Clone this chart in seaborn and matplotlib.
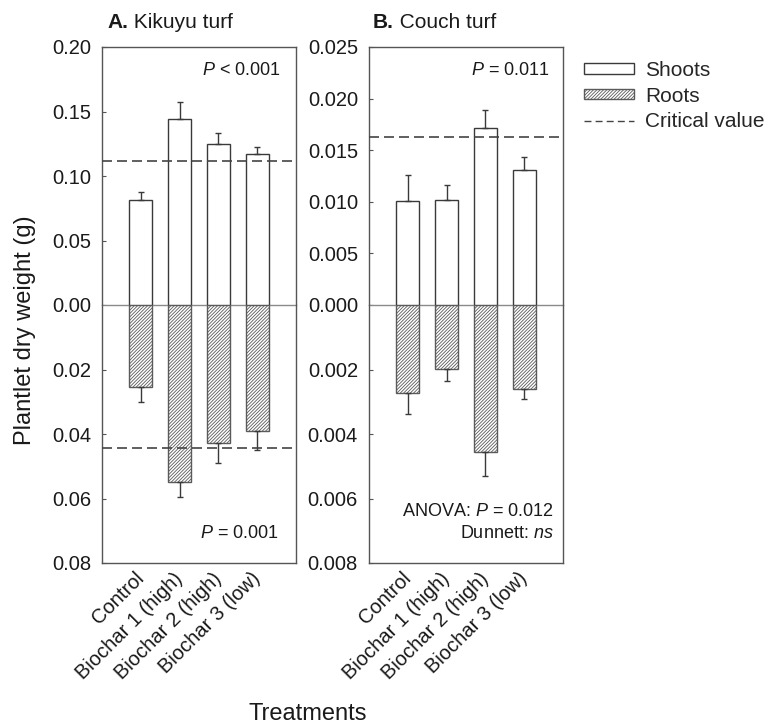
import numpy as np
import pandas as pd
import matplotlib
matplotlib.use("Agg")
import matplotlib.pyplot as plt
import seaborn as sns
from matplotlib.patches import Patch
from matplotlib.lines import Line2D

# ---------------- data ----------------
treatments = ["Control", "Biochar 1 (high)", "Biochar 2 (high)", "Biochar 3 (low)"]

kikuyu_shoots = [0.0814, 0.1442, 0.1248, 0.1170]
kikuyu_shoots_se = [0.0062, 0.0134, 0.0088, 0.0057]
kikuyu_roots = [0.0253, 0.0548, 0.0429, 0.0391]
kikuyu_roots_se = [0.0047, 0.0046, 0.0062, 0.0059]
kikuyu_crit_shoots = 0.1116
kikuyu_crit_roots = 0.0444

couch_shoots = [0.01008, 0.0102, 0.01715, 0.01311]
couch_shoots_se = [0.00252, 0.0014, 0.00171, 0.00126]
couch_roots = [0.00274, 0.00198, 0.00455, 0.0026]
couch_roots_se = [0.00064, 0.00037, 0.00074, 0.00032]
couch_crit_shoots = 0.01625

kik_top_ticks = [0.00, 0.05, 0.10, 0.15, 0.20]
kik_bot_ticks = [0.02, 0.04, 0.06, 0.08]
cou_top_ticks = [0.000, 0.005, 0.010, 0.015, 0.020, 0.025]
cou_bot_ticks = [0.002, 0.004, 0.006, 0.008]

# ---------------- style ----------------
sns.set_theme(style="white")
plt.rcParams["font.family"] = ["Liberation Sans", "DejaVu Sans"]
plt.rcParams["mathtext.fontset"] = "custom"
plt.rcParams["mathtext.rm"] = "Liberation Sans"
plt.rcParams["mathtext.it"] = "Liberation Sans:italic"
plt.rcParams["hatch.linewidth"] = 0.6

W, H = 767, 727
fig = plt.figure(figsize=(W / 100, H / 100), dpi=100)

EDGE = "#3a3a3a"
HATCH_EDGE = "#5a5a5a"
SPINE = "#555555"
TXT = "#1a1a1a"
TICK_FS = 14.5
ANN_FS = 13


def px_axes(x0, x1, y0, y1):
    return fig.add_axes([x0 / W, 1 - y1 / H, (x1 - x0) / W, (y1 - y0) / H])


def style_axis(ax, ticks, fmt, inverted, lim):
    for s in ax.spines.values():
        s.set_color(SPINE)
        s.set_linewidth(1.0)
    if inverted:
        ax.spines["top"].set_visible(False)
        ax.set_ylim(lim, 0)
    else:
        ax.spines["bottom"].set_visible(False)
        ax.set_ylim(0, lim)
    ax.axhline(0, color="#8a8a8a", lw=1.0, zorder=0.5)
    ax.set_yticks(ticks)
    ax.set_yticklabels([fmt.format(t) for t in ticks])
    ax.tick_params(axis="y", direction="in", length=3, width=0.8, color=SPINE,
                   labelsize=TICK_FS, pad=8, labelcolor=TXT, left=True)
    ax.set_xlim(-1, 4)
    ax.set_xlabel("")
    ax.set_ylabel("")


def draw_panel(xleft, shoots, s_se, roots, r_se, top_ticks, bot_ticks, fmt_top,
               fmt_bot, crit_top, crit_bot):
    ax_t = px_axes(xleft, xleft + 194, 47, 305)
    ax_b = px_axes(xleft, xleft + 194, 305, 563)
    x = np.arange(len(treatments))

    df_s = pd.DataFrame({"treatment": treatments, "value": shoots})
    sns.barplot(data=df_s, x="treatment", y="value", ax=ax_t, color="white",
                edgecolor=EDGE, linewidth=1.0, width=0.6, errorbar=None,
                saturation=1)
    ax_t.errorbar(x, shoots, yerr=[np.zeros(len(x)), s_se], fmt="none",
                  ecolor=EDGE, elinewidth=1.0, capsize=2.5, capthick=1.0)

    df_r = pd.DataFrame({"treatment": treatments, "value": roots})
    sns.barplot(data=df_r, x="treatment", y="value", ax=ax_b, color="white",
                edgecolor=HATCH_EDGE, linewidth=1.0, width=0.6, errorbar=None,
                saturation=1, hatch="/" * 10)
    ax_b.errorbar(x, roots, yerr=[np.zeros(len(x)), r_se], fmt="none",
                  ecolor=EDGE, elinewidth=1.0, capsize=2.5, capthick=1.0)

    style_axis(ax_t, top_ticks, fmt_top, False, top_ticks[-1])
    style_axis(ax_b, bot_ticks, fmt_bot, True, bot_ticks[-1])

    if crit_top is not None:
        ax_t.axhline(crit_top, color="#444444", lw=1.2, ls=(0, (6, 3)), zorder=3)
    if crit_bot is not None:
        ax_b.axhline(crit_bot, color="#444444", lw=1.2, ls=(0, (6, 3)), zorder=3)

    ax_t.set_xticks([])
    ax_b.set_xticks(x)
    ax_b.set_xticklabels(treatments, rotation=45, ha="right", va="center",
                         rotation_mode="anchor", fontsize=TICK_FS, color=TXT)
    ax_b.tick_params(axis="x", length=0, pad=9)
    return ax_t, ax_b


kt, kb = draw_panel(102, kikuyu_shoots, kikuyu_shoots_se, kikuyu_roots,
                    kikuyu_roots_se, kik_top_ticks, kik_bot_ticks, "{:.2f}",
                    "{:.2f}", kikuyu_crit_shoots, kikuyu_crit_roots)
ct, cb = draw_panel(369, couch_shoots, couch_shoots_se, couch_roots,
                    couch_roots_se, cou_top_ticks, cou_bot_ticks, "{:.3f}",
                    "{:.3f}", couch_crit_shoots, None)

# annotations
def ptext(ax, xa, ya, rel, val):
    ax.text(xa, ya, rf"$\it{{P}}$ {rel} {val}", transform=ax.transAxes,
            ha="right", va="center", fontsize=ANN_FS, color=TXT)

ptext(kt, 0.92, 0.91, "<", "0.001")
ptext(kb, 0.91, 0.115, "=", "0.001")
ptext(ct, 0.93, 0.91, "=", "0.011")
cb.text(0.95, 0.20, r"ANOVA: $\it{P}$ = 0.012", transform=cb.transAxes,
        ha="right", va="center", fontsize=ANN_FS, color=TXT)
cb.text(0.95, 0.115, r"Dunnett: $\it{ns}$", transform=cb.transAxes,
        ha="right", va="center", fontsize=ANN_FS, color=TXT)

# titles
fig.canvas.draw()
rend = fig.canvas.get_renderer()
for xpx, lab, rest in [(107, "A.", " Kikuyu turf"), (373, "B.", " Couch turf")]:
    t1 = fig.text(xpx / W, 1 - 23 / H, lab, fontsize=15, fontweight="bold",
                  va="center", ha="left", color=TXT)
    bb = t1.get_window_extent(renderer=rend)
    fig.text(bb.x1 / W, 1 - 23 / H, rest, fontsize=15, va="center", ha="left",
             color=TXT)

fig.text(25 / W, 1 - 330 / H, "Plantlet dry weight (g)", rotation=90,
         fontsize=17, ha="center", va="center", color=TXT)
fig.text(308 / W, 1 - 714 / H, "Treatments", fontsize=17, ha="center",
         va="center", color=TXT)

handles = [
    Patch(facecolor="white", edgecolor=EDGE, linewidth=1.0),
    Patch(facecolor="white", edgecolor=HATCH_EDGE, linewidth=1.0, hatch="/" * 10),
    Line2D([0], [0], color="#444444", lw=1.0, ls=(0, (5, 3))),
]
fig.legend(handles, ["Shoots", "Roots", "Critical value"], loc="upper left",
           bbox_to_anchor=(584 / W, 1 - 61 / H), frameon=False, fontsize=15,
           handlelength=2.4, handleheight=0.4, handletextpad=0.55,
           labelspacing=0.32, borderpad=0, borderaxespad=0)

fig.savefig("out.png", dpi=100)
